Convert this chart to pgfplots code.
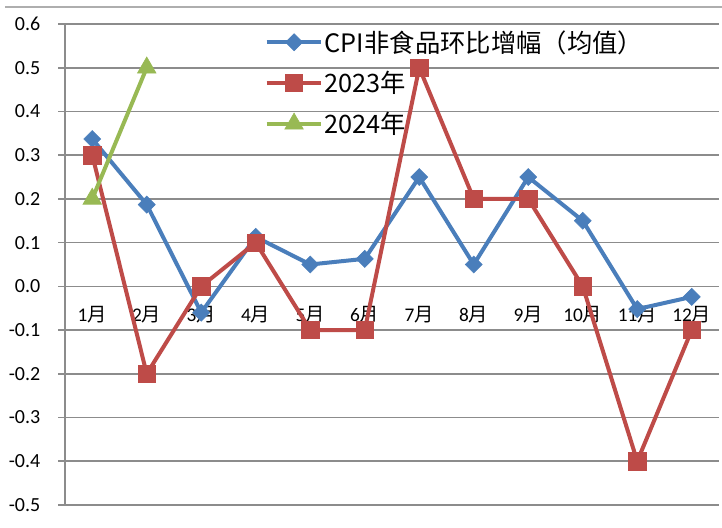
\documentclass[border=0pt]{standalone}
\usepackage{fontspec}
\setmainfont{Carlito}
\newfontfamily\cjk{Noto Sans CJK SC}
\usepackage{pgfplots}
\pgfplotsset{compat=1.18}
\definecolor{cblue}{HTML}{4A7EBB}
\definecolor{cred}{HTML}{BE4B48}
\definecolor{cgreen}{HTML}{98B954}
\definecolor{cgrid}{HTML}{8C8C8C}
\begin{document}
\begin{tikzpicture}
\path[use as bounding box] (-48.75pt,-17.25pt) rectangle (492.75pt,378.75pt);
\draw[cgrid!70, line width=0.9pt] (-45pt,373.5pt) -- (492.75pt,373.5pt);
\begin{axis}[
  at={(0,0)}, anchor=south west,
  scale only axis,
  width=490.5pt, height=360.75pt,
  xmin=0.5, xmax=12.5, ymin=-0.5, ymax=0.6,
  axis y line=left, axis x line=middle,
  axis line style={-, cgrid, line width=1.2pt},
  hide obscured x ticks=false, hide obscured y ticks=false,
  xtick={1,...,12},
  xticklabels={1{\cjk 月},2{\cjk 月},3{\cjk 月},4{\cjk 月},5{\cjk 月},6{\cjk 月},7{\cjk 月},8{\cjk 月},9{\cjk 月},10{\cjk 月},11{\cjk 月},12{\cjk 月}},
  minor xtick={0.5,1.5,...,12.5},
  xtick style={draw=none},
  minor x tick style={cgrid, line width=1.2pt},
  minor tick length=4.5pt,
  ytick={-0.5,-0.4,...,0.6},
  yticklabels={-0.5,-0.4,-0.3,-0.2,-0.1,0.0,0.1,0.2,0.3,0.4,0.5,0.6},
  major tick length=5pt,
  tick align=outside,
  ytick style={cgrid, line width=1.2pt},
  ymajorgrids,
  grid style={cgrid, line width=1.2pt},
  xticklabel style={font=\fontsize{14.5}{16}\selectfont, anchor=center, yshift=-16.5pt},
  yticklabel style={font=\fontsize{15}{17}\selectfont, anchor=east, xshift=-10pt},
  clip=false,
  legend cell align=left,
  legend style={at={(0.305,0.99)}, anchor=north west, draw=none, fill=none,
    font=\cjk\fontsize{19}{21}\selectfont, row sep=11pt, inner sep=0pt,
    nodes={inner sep=1pt}},
  legend image code/.code={
    \draw[#1, mark repeat=2, mark phase=2] plot coordinates {(0pt,0pt) (20.5pt,0pt) (41pt,0pt)};
  },
]
\addplot[cblue, line width=3pt, mark=square*, mark size=4.5pt, mark options={solid, rotate=45, line width=0.5pt, fill=cblue}]
  coordinates {(1,0.337)(2,0.187)(3,-0.06)(4,0.113)(5,0.05)(6,0.063)(7,0.25)(8,0.05)(9,0.25)(10,0.15)(11,-0.052)(12,-0.024)};
\addlegendentry{CPI非食品环比增幅（均值）}
\addplot[cred, line width=3pt, mark=square*, mark size=6.5pt, mark options={solid, line width=0.5pt, fill=cred}]
  coordinates {(1,0.3)(2,-0.2)(3,0)(4,0.1)(5,-0.1)(6,-0.1)(7,0.5)(8,0.2)(9,0.2)(10,0)(11,-0.4)(12,-0.1)};
\addlegendentry{2023年}
\addplot[cgreen, line width=3pt, mark=triangle*, mark size=8pt, mark options={solid, line width=0.5pt, fill=cgreen}]
  coordinates {(1,0.2)(2,0.5)};
\addlegendentry{2024年}
\end{axis}
\end{tikzpicture}
\end{document}
